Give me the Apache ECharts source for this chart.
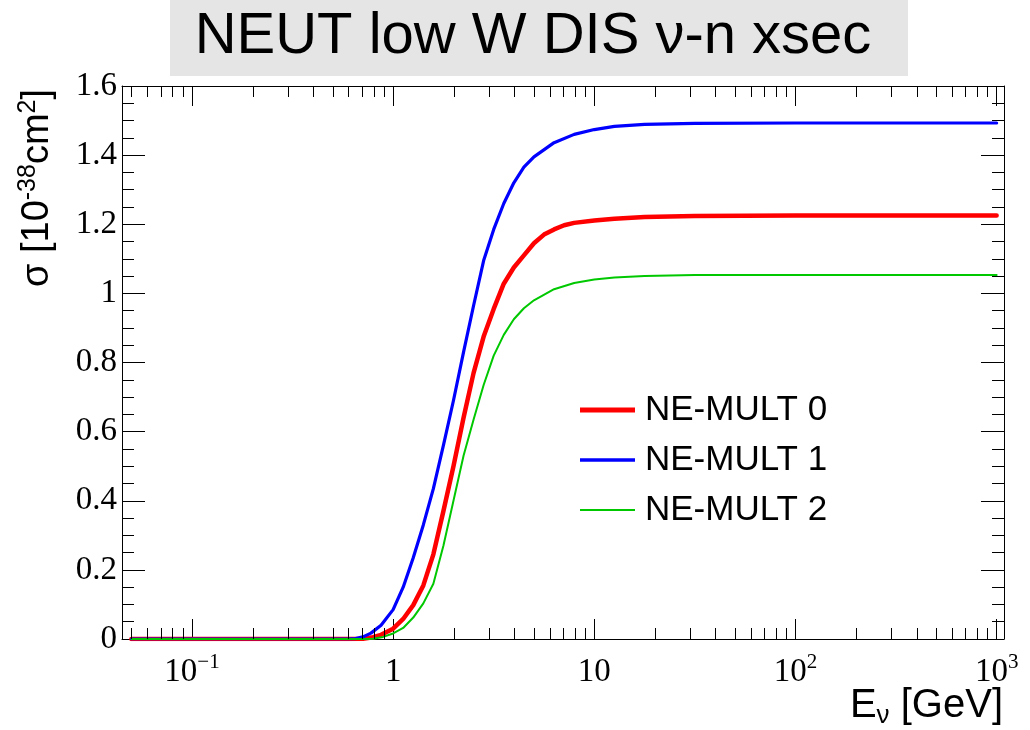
<!DOCTYPE html>
<html><head><meta charset="utf-8">
<script src="https://cdn.jsdelivr.net/npm/echarts@6/dist/echarts.min.js"></script>
<style>html,body{margin:0;padding:0;background:#fff}#c{width:1030px;height:730px}</style>
</head><body><div id="c"></div>
<script>
// ---- data ----
const seriesNames = ['NE-MULT 0', 'NE-MULT 1', 'NE-MULT 2'];

const mult0Energy = [0.05, 0.3, 0.6, 0.708, 0.794, 0.871, 1.0, 1.122, 1.259, 1.413, 1.585, 1.778, 1.995, 2.239, 2.512, 2.818, 3.162, 3.548, 3.981, 4.467, 5.012, 5.623, 6.31, 7.079, 7.943, 10, 12.59, 17.78, 31.62, 100, 1000];
const mult0Xsec   = [0, 0, 0, 0.001, 0.005, 0.012, 0.03, 0.058, 0.098, 0.155, 0.245, 0.37, 0.5, 0.64, 0.77, 0.875, 0.955, 1.028, 1.075, 1.11, 1.145, 1.17, 1.185, 1.197, 1.204, 1.211, 1.216, 1.221, 1.224, 1.225, 1.225];

const mult1Energy = [0.05, 0.3, 0.6, 0.65, 0.708, 0.776, 0.871, 1.0, 1.122, 1.259, 1.413, 1.585, 1.778, 1.995, 2.239, 2.512, 2.818, 3.162, 3.548, 3.981, 4.467, 5.012, 6.31, 7.943, 10, 12.59, 17.78, 31.62, 100, 1000];
const mult1Xsec   = [0, 0, 0, 0.001, 0.006, 0.017, 0.04, 0.085, 0.15, 0.235, 0.33, 0.435, 0.56, 0.69, 0.83, 0.965, 1.095, 1.185, 1.26, 1.32, 1.365, 1.395, 1.436, 1.46, 1.474, 1.483, 1.489, 1.492, 1.493, 1.493];

const mult2Energy = [0.05, 0.3, 0.7, 0.794, 0.891, 1.0, 1.122, 1.259, 1.413, 1.585, 1.778, 1.995, 2.239, 2.512, 2.818, 3.162, 3.548, 3.981, 4.467, 5.012, 6.31, 7.943, 10, 12.59, 17.78, 31.62, 100, 1000];
const mult2Xsec   = [0, 0, 0, 0.001, 0.006, 0.016, 0.032, 0.062, 0.103, 0.16, 0.27, 0.4, 0.53, 0.635, 0.735, 0.82, 0.88, 0.925, 0.957, 0.98, 1.012, 1.03, 1.04, 1.046, 1.05, 1.053, 1.053, 1.053];

// axis ranges and tick labels
const xRange = [0.0449, 1088];
const yRange = [0, 1.6];
const yStep = 0.2;
const xMajorExponents = [-1, 0, 1, 2, 3];
const xTickLabels = ['{b|10}{s|\u22121}', '{b|1}', '{b|10}', '{b|10}{s|2}', '{b|10}{s|3}'];
const titleText = 'NEUT low W DIS \u03bd-n xsec';

// minor tick values on the log axis (2..9 x 10^n inside the range)
const xMinorTicks = [];
for (let e = -2; e <= 3; e++) {
  for (let m = 2; m <= 9; m++) {
    const v = m * Math.pow(10, e);
    if (v > xRange[0] && v < xRange[1]) xMinorTicks.push(v);
  }
}

const zip = (a, b) => a.map((v, i) => [v, b[i]]);

const chart = echarts.init(document.getElementById('c'), null, {renderer: 'canvas'});

const serif = 'Liberation Serif';
const sans = 'Liberation Sans';

function xLabel(v) {
  const lg = Math.log10(v);
  const e = Math.round(lg);
  if (Math.abs(lg - e) > 1e-6) return '';
  const i = xMajorExponents.indexOf(e);
  return i < 0 ? '' : xTickLabels[i];
}

const tickRich = {
  b: {fontFamily: serif, fontSize: 33, lineHeight: 40, color: '#000'},
  s: {fontFamily: serif, fontSize: 21, lineHeight: 30, verticalAlign: 'top', color: '#000'}
};

const axisLineStyle = {show: true, onZero: false, lineStyle: {color: '#000', width: 1}};

const lineColors = ['#ff0000', '#0000ff', '#00c800'];
const lineWidths = [4.5, 3.2, 2];
const seriesData = [zip(mult0Energy, mult0Xsec), zip(mult1Energy, mult1Xsec), zip(mult2Energy, mult2Xsec)];

const option = {
  animation: false,
  backgroundColor: '#fff',
  grid: {left: 122, top: 86, width: 882, height: 553, containLabel: false},
  xAxis: [
    {
      type: 'log', logBase: 10, min: xRange[0], max: xRange[1], position: 'bottom',
      axisLine: axisLineStyle,
      axisTick: {show: true, inside: true, length: 20, lineStyle: {color: '#000', width: 1}},
      splitLine: {show: false},
      axisLabel: {show: true, margin: 13, formatter: xLabel, rich: tickRich, color: '#000'}
    },
    {
      type: 'log', logBase: 10, min: xRange[0], max: xRange[1], position: 'top',
      axisLine: axisLineStyle,
      axisTick: {show: true, inside: true, length: 20, lineStyle: {color: '#000', width: 1}},
      splitLine: {show: false},
      axisLabel: {show: false}
    }
  ],
  yAxis: [
    {
      type: 'value', min: yRange[0], max: yRange[1], interval: yStep, position: 'left',
      axisLine: axisLineStyle,
      axisTick: {show: true, inside: true, length: 23, lineStyle: {color: '#000', width: 1}},
      minorTick: {show: true, splitNumber: 4, length: 12, lineStyle: {color: '#000', width: 1}},
      splitLine: {show: false},
      axisLabel: {show: true, margin: 5, fontFamily: serif, fontSize: 33, color: '#000'}
    },
    {
      type: 'value', min: yRange[0], max: yRange[1], interval: yStep, position: 'right',
      axisLine: axisLineStyle,
      axisTick: {show: true, inside: true, length: 23, lineStyle: {color: '#000', width: 1}},
      minorTick: {show: true, splitNumber: 4, length: 12, lineStyle: {color: '#000', width: 1}},
      splitLine: {show: false},
      axisLabel: {show: false}
    }
  ],
  legend: {
    orient: 'vertical', left: 580, top: 390, padding: 0, itemGap: 10,
    itemWidth: 55, itemHeight: 14, selectedMode: false,
    itemStyle: {borderWidth: 0},
    textStyle: {fontFamily: sans, fontSize: 35, color: '#000', lineHeight: 40, padding: [0, 0, 0, 5]},
    data: [
      {name: seriesNames[0], icon: 'path://M0,0H55V5H0Z'},
      {name: seriesNames[1], icon: 'path://M0,0H55V3.4H0Z'},
      {name: seriesNames[2], icon: 'path://M0,0H55V2.2H0Z'}
    ]
  },
  series: seriesNames.map((n, i) => ({
    name: n, type: 'line', xAxisIndex: 0, yAxisIndex: 0,
    data: seriesData[i], symbol: 'none', showSymbol: false,
    smooth: false,
    color: lineColors[i], itemStyle: {color: lineColors[i]},
    lineStyle: {color: lineColors[i], width: lineWidths[i], join: 'round', cap: 'round'},
    z: 3 + i
  })).concat([{
    type: 'custom', name: 'minorTicks', xAxisIndex: 0, yAxisIndex: 0, silent: true, z: 10,
    data: xMinorTicks.map(v => [v, 0]),
    renderItem: function (params, api) {
      const cs = params.coordSys;
      const x = Math.round(api.coord([api.value(0), 0])[0]) + 0.5;
      const yb = cs.y + cs.height, yt = cs.y;
      return {type: 'group', children: [
        {type: 'line', shape: {x1: x, y1: yb, x2: x, y2: yb - 11}, style: {stroke: '#000', lineWidth: 1}},
        {type: 'line', shape: {x1: x, y1: yt, x2: x, y2: yt + 11}, style: {stroke: '#000', lineWidth: 1}}
      ]};
    }
  }]),
  graphic: [
    {type: 'rect', left: 170, top: 0, shape: {width: 738, height: 76}, style: {fill: '#e5e5e5'}, z: 0},
    {type: 'text', x: 533, y: 37, z: 1,
     style: {text: titleText, fontFamily: sans, fontSize: 58, fill: '#000', align: 'center', verticalAlign: 'middle'}},
    {type: 'text', x: 1003, y: 683, z: 1,
     style: {text: '{b|E}{sub|\u03bd}{b| [GeV]}', align: 'right', verticalAlign: 'top',
       rich: {
         b: {fontFamily: sans, fontSize: 40, lineHeight: 46, fill: '#000', color: '#000'},
         sub: {fontFamily: sans, fontSize: 26, lineHeight: 26, verticalAlign: 'bottom', fill: '#000', color: '#000'}
       }}},
    {type: 'text', x: 38, y: 188, rotation: Math.PI / 2, z: 1,
     style: {text: '{b|\u03c3 [10}{sup|-38}{b|cm}{sup|2}{b|]}', align: 'center', verticalAlign: 'middle',
       rich: {
         b: {fontFamily: sans, fontSize: 38, lineHeight: 44, fill: '#000', color: '#000'},
         sup: {fontFamily: sans, fontSize: 25, lineHeight: 25, verticalAlign: 'top', fill: '#000', color: '#000'}
       }}}
  ]
};

chart.setOption(option);
</script>
</body></html>
